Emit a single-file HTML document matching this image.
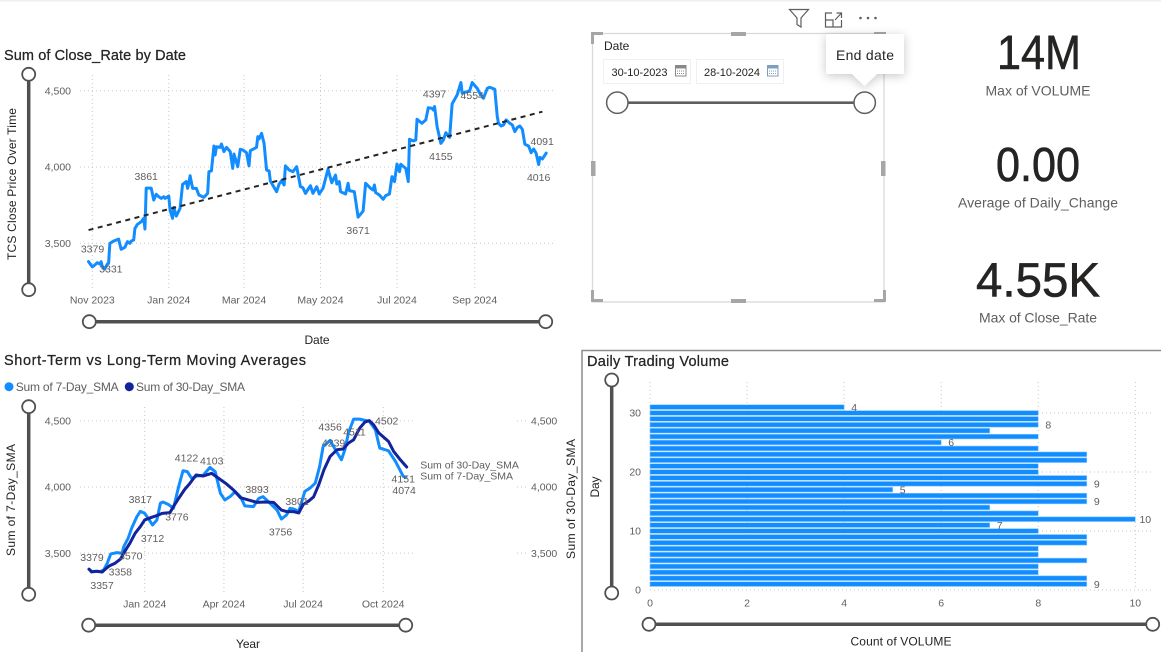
<!DOCTYPE html>
<html lang="en">
<head>
<meta charset="utf-8">
<title>TCS Stock Dashboard</title>
<style>
html,body{margin:0;padding:0;background:#fff;width:1161px;height:652px;overflow:hidden}
svg{display:block}
text{font-family:"Liberation Sans",sans-serif}
.title{font-size:14.5px;fill:#252423;stroke:#252423;stroke-width:.25px}
.axis-title{font-size:12px;fill:#252423;text-anchor:middle}
.tick{font-size:10.5px;fill:#605e5c}
.dl{font-size:10.5px;fill:#605e5c;text-anchor:middle}
.kpi{font-size:48px;fill:#252423;stroke:#252423;stroke-width:.6px;text-anchor:middle}
.kpi-label{font-size:14px;fill:#605e5c;text-anchor:middle}
.grid{stroke:#c8c6c4;stroke-width:1;stroke-dasharray:1 3;fill:none}
.track{stroke:#51504e;stroke-width:3.5}
.knob{fill:#fff;stroke:#51504e;stroke-width:1.8}
.hnd{fill:#a6a6a6}
</style>
</head>
<body>
<svg id="root" xmlns="http://www.w3.org/2000/svg" width="1161" height="652" viewBox="0 0 1161 652">
  <defs>
    <filter id="tipShadow" x="-30%" y="-30%" width="160%" height="170%">
      <feDropShadow dx="0" dy="2" stdDeviation="5" flood-color="#000" flood-opacity="0.22"/>
    </filter>
  </defs>
  <rect x="0" y="0" width="1161" height="1.5" fill="#efefef"/>

  <!-- Close rate chart -->
  <g id="closeChart">
    <text class="title" x="4" y="60" textLength="182">Sum of Close_Rate by Date</text>
    <text class="axis-title" transform="translate(16,184) rotate(-90)" textLength="152">TCS Close Price Over Time</text>
    <text class="axis-title" x="317" y="344" textLength="25">Date</text>
    <line class="track" x1="28.7" y1="74" x2="28.7" y2="290"/>
    <circle class="knob" cx="28.7" cy="74.3" r="6.5"/>
    <circle class="knob" cx="28.7" cy="289.7" r="6.5"/>
    <line class="track" x1="89" y1="321.7" x2="546" y2="321.7"/>
    <circle class="knob" cx="89.3" cy="321.7" r="6.5"/>
    <circle class="knob" cx="545.7" cy="321.7" r="6.5"/>
  </g>

  <!-- SMA chart -->
  <g id="smaChart">
    <text class="title" x="4" y="365" textLength="302">Short-Term vs Long-Term Moving Averages</text>
    <circle cx="9" cy="386.7" r="4.5" fill="#118DFF"/>
    <text class="tick" x="15.7" y="391" style="font-size:12px" textLength="103">Sum of 7-Day_SMA</text>
    <circle cx="129.3" cy="386.7" r="4.5" fill="#12239E"/>
    <text class="tick" x="136" y="391" style="font-size:12px" textLength="109">Sum of 30-Day_SMA</text>
    <text class="axis-title" transform="translate(15,500) rotate(-90)" textLength="112">Sum of 7-Day_SMA</text>
    <text class="axis-title" transform="translate(575,499) rotate(-90)" textLength="120">Sum of 30-Day_SMA</text>
    <text class="axis-title" x="248" y="648" textLength="24">Year</text>
    <line class="track" x1="28.7" y1="407" x2="28.7" y2="594"/>
    <circle class="knob" cx="28.7" cy="406.7" r="6.5"/>
    <circle class="knob" cx="28.7" cy="594.3" r="6.5"/>
    <line class="track" x1="89" y1="625.2" x2="406" y2="625.2"/>
    <circle class="knob" cx="88.7" cy="625.2" r="6.5"/>
    <circle class="knob" cx="405.7" cy="625.2" r="6.5"/>
  </g>

  <!-- Date slicer -->
  <g id="slicer">
    <rect x="592.5" y="33.5" width="291.5" height="268.5" fill="#fff" stroke="#d9d9d9" stroke-width="1.3"/>
    <path class="hnd" d="M591 32h12v3h-9v9h-3zM886 290v12h-12v-3h9v-9zM591 290h3v9h9v3h-12zM874 32h12v3h-12z"/>
    <rect class="hnd" x="731" y="32" width="15" height="4"/>
    <rect class="hnd" x="731" y="299" width="15" height="4"/>
    <rect class="hnd" x="591" y="161" width="4.5" height="15"/>
    <rect class="hnd" x="881" y="161" width="4.5" height="15"/>
    <text x="604" y="50" style="font-size:12px;fill:#252423">Date</text>
    <rect x="603.5" y="59.5" width="87" height="24" fill="#fff" stroke="#f0f0f0"/>
    <text x="611.5" y="76" style="font-size:11px;fill:#252423" textLength="56">30-10-2023</text>
    <g>
      <rect x="675.5" y="65.5" width="10.5" height="10.5" fill="#fff" stroke="#8a8886"/>
      <rect x="675.5" y="65.5" width="10.5" height="3" fill="#8a8886"/>
      <path d="M677 71h8M677 73.5h8" stroke="#8a8886" stroke-dasharray="1 1"/>
    </g>
    <rect x="696.5" y="59.5" width="87" height="24" fill="#fff" stroke="#f0f0f0"/>
    <text x="704" y="76" style="font-size:11px;fill:#252423" textLength="56">28-10-2024</text>
    <g>
      <rect x="767.5" y="65.5" width="10.5" height="10.5" fill="#fff" stroke="#7f9fc0"/>
      <rect x="767.5" y="65.5" width="10.5" height="3" fill="#7f9fc0"/>
      <path d="M769 71h8M769 73.5h8" stroke="#7f9fc0" stroke-dasharray="1 1"/>
    </g>
    <line x1="617" y1="102.7" x2="865" y2="102.7" stroke="#605e5c" stroke-width="2.6"/>
    <circle cx="617.3" cy="102.7" r="10.7" fill="#fff" stroke="#605e5c" stroke-width="1.5"/>
    <circle cx="864.7" cy="102.7" r="10.7" fill="#fff" stroke="#605e5c" stroke-width="1.5"/>
    <g>
      <path d="M828 34h74a2 2 0 0 1 2 2v36a2 2 0 0 1-2 2h-25l-12.500 12l-12.500-12h-24a2 2 0 0 1-2-2v-36a2 2 0 0 1 2-2z" fill="#fff" filter="url(#tipShadow)"/>
      <text x="865" y="60" style="font-size:14px;fill:#252423;text-anchor:middle" textLength="58">End date</text>
    </g>
    <g fill="none" stroke="#605e5c" stroke-width="1.2">
      <path d="M789.500 9.500h19l-7.500 8.500v9l-4-2.500v-6.500z"/>
      <path d="M832 13h-6.500v14h16v-7M825.500 20h7.500v7M835 20l6.500-7M836.500 13h5v5"/>
    </g>
    <g fill="#605e5c">
      <circle cx="860.500" cy="18" r="1.300"/><circle cx="868" cy="18" r="1.300"/><circle cx="875.500" cy="18" r="1.300"/>
    </g>
  </g>

  <!-- KPI cards -->
  <g>
    <text class="kpi" x="1039" y="69" textLength="84" lengthAdjust="spacingAndGlyphs">14M</text>
    <text class="kpi-label" x="1038" y="95.500" textLength="105">Max of VOLUME</text>
  </g>
  <g>
    <text class="kpi" x="1038" y="181" textLength="84" lengthAdjust="spacingAndGlyphs">0.00</text>
    <text class="kpi-label" x="1038" y="207.500" textLength="160">Average of Daily_Change</text>
  </g>
  <g>
    <text class="kpi" x="1038" y="296.500" textLength="124" lengthAdjust="spacingAndGlyphs">4.55K</text>
    <text class="kpi-label" x="1038" y="322.500" textLength="118">Max of Close_Rate</text>
  </g>

  <!-- Volume chart -->
  <g id="volumeChart">
    <path d="M582 652V350.500H1161" fill="none" stroke="#8c8c8c" stroke-width="1.500"/>
    <text class="title" x="587" y="366" textLength="142">Daily Trading Volume</text>
    <text class="axis-title" transform="translate(599,487) rotate(-90)" textLength="21">Day</text>
    <text class="axis-title" x="901" y="645.500" textLength="101">Count of VOLUME</text>
    <line class="track" x1="611.700" y1="380" x2="611.700" y2="593"/>
    <circle class="knob" cx="611.700" cy="380" r="6.500"/>
    <circle class="knob" cx="611.700" cy="593" r="6.500"/>
    <line class="track" x1="649" y1="624.300" x2="1153" y2="624.300"/>
    <circle class="knob" cx="649" cy="624.300" r="6.500"/>
    <circle class="knob" cx="1152.700" cy="624.300" r="6.500"/>
  </g>
</svg>

<script>
// ---------- Close rate chart data ----------
const closeDays = [-3,0,1,4,6,7,8,10,12,13,14,17,21,23,26,28,30,31,33,34,36,39,41,42,43,47,49,51,53,55,57,58,61,62,64,65,67,70,72,75,76,77,78,80,83,85,89,92,93,95,97,98,99,102,103,105,107,110,112,113,116,118,120,123,125,126,131,132,133,135,137,139,141,142,147,149,151,153,154,157,160,163,166,168,170,174,176,179,181,184,188,191,194,195,197,198,202,204,205,209,212,216,218,222,224,225,226,229,232,234,237,239,241,243,245,246,250,252,253,256,258,259,263,266,268,271,272,273,275,278,280,282,285,287,291,294,295,299,301,303,307,309,312,315,317,321,323,324,326,328,330,333,335,337,339,341,343,345,348,350,352,354,356,357,359,362];
const closeValues = [3379,3345,3350,3372,3363,3379,3346,3331,3363,3368,3499,3514,3527,3460,3473,3510,3499,3514,3521,3597,3624,3641,3663,3593,3861,3861,3783,3821,3805,3794,3805,3794,3810,3718,3663,3735,3678,3729,3886,3904,3860,3893,3943,3860,3860,3816,3801,3827,3969,3974,4138,4079,4133,4129,4151,4101,4129,4101,3991,4085,4002,4116,4112,4094,4007,4107,4129,4199,4184,4221,4155,3980,3974,3908,3838,3888,3910,3882,4007,3980,3969,4002,3871,3864,3827,3877,3827,3871,3823,3860,3985,3897,3947,3888,3904,3838,3823,3893,3845,3838,3671,3711,3893,3860,3849,3882,3832,3816,3788,3812,3823,3937,3904,4020,3969,4018,3991,3904,4182,4171,4177,4313,4287,4309,4389,4385,4374,4397,4265,4155,4177,4225,4195,4414,4473,4554,4484,4494,4501,4554,4516,4484,4451,4516,4523,4510,4330,4287,4269,4276,4309,4287,4276,4232,4260,4269,4247,4149,4138,4094,4118,4090,4016,4063,4053,4091];
const closeTrendDays = [-3,359];
const closeTrendValues = [3586,4363];
const closeXTickDays = [0,61,121,182,243,305];
const closeXTickLabels = ['Nov 2023','Jan 2024','Mar 2024','May 2024','Jul 2024','Sep 2024'];
const priceTicks = [3500,4000,4500];
const priceTickLabels = ['3,500','4,000','4,500'];
const closeLabelDays = [-3,10,43,212,273,278,303,362,356];
const closeLabelValues = [3379,3331,3861,3671,4397,4155,4554,4091,4016];
const closeLabelNudgeX = [4,6,0,0,0,0,0,-4,0];
const closeLabelNudgeY = [-13,0,-12,13,-12.5,13,12.5,-12,12.5];

// ---------- Moving averages chart data ----------
const sma30Days = [-64,-61,-55,-49,-44,-40,-34,-28,-23,-17,-11,-5,0,8,14,20,29,33,39,46,52,59,67,77,85,94,102,110,119,129,138,148,157,163,171,177,182,188,194,200,206,213,221,228,234,240,247,253,258,263,269,280,286,293,301];
const sma30Values = [3379,3358,3363,3357,3386,3406,3424,3454,3512,3575,3650,3701,3751,3771,3784,3801,3806,3852,3914,3982,4028,4091,4083,4103,4065,4023,3977,3919,3902,3884,3887,3884,3826,3814,3814,3804,3867,3892,3925,4018,4131,4231,4282,4287,4332,4357,4445,4491,4502,4470,4408,4345,4269,4211,4151];
const sma7Days = [-64,-61,-51,-47,-43,-39,-32,-26,-24,-19,-15,-9,-5,0,4,9,14,18,21,27,33,39,44,49,54,60,67,75,81,87,92,98,104,110,115,125,131,136,144,152,157,163,167,171,177,184,190,196,201,205,213,219,226,230,234,240,247,258,265,270,280,288,297,300];
const sma7Values = [3379,3363,3361,3374,3424,3494,3504,3499,3550,3613,3688,3776,3816,3801,3763,3713,3751,3877,3887,3869,3839,4003,4123,4116,4065,4083,4088,4148,4116,3952,3902,3927,3965,3927,3857,3852,3914,3927,3877,3826,3758,3789,3839,3834,3816,3967,3992,4030,4156,4307,4352,4282,4206,4282,4408,4513,4513,4496,4433,4294,4274,4194,4081,4074];
const smaXTickDays = [0,91,182,274];
const smaXTickLabels = ['Jan 2024','Apr 2024','Jul 2024','Oct 2024'];
const smaLabelDays = [-64,-28,-49,-16,-5,9,37,48,77,129,156,175,213,217,241,278,297,298];
const smaLabelValues = [3379,3358,3357,3570,3817,3712,3776,4122,4103,3893,3756,3801,4356,4239,4511,4502,4151,4074];
const smaLabelNudgeX = [3,0,0,0,0,0,0,0,0,0,0,0,0,0,0,0,0,0];
const smaLabelNudgeY = [-12,0,13,12,-12,13,0,-13,-12.5,-12,12.7,-12,-13,-12.5,12.6,0,12,13];
const smaEndLabels = ['Sum of 30-Day_SMA','Sum of 7-Day_SMA'];

// ---------- Volume chart data ----------
const volumeDays = [31,30,29,28,27,26,25,24,23,22,21,20,19,18,17,16,15,14,13,12,11,10,9,8,7,6,5,4,3,2,1];
const volumeCounts = [4,8,8,8,7,8,6,8,9,9,8,8,9,9,5,9,9,7,8,10,7,8,9,9,8,8,9,8,8,9,9];
const volumeLabelledDays = [31,28,25,18,17,15,12,11,1];
const volumeXTicks = [0,2,4,6,8,10];
const volumeYTicks = [0,10,20,30];

// ---------- Drawing helpers ----------
const SVG_NS = 'http://www.w3.org/2000/svg';
function mk(tag, attrs, parent) {
  const el = document.createElementNS(SVG_NS, tag);
  for (const k in attrs) el.setAttribute(k, attrs[k]);
  parent.appendChild(el);
  return el;
}
function pathFrom(xs, ys, sx, sy) {
  return xs.map((d, i) => (i ? 'L' : 'M') + sx(d).toFixed(2) + ' ' + sy(ys[i]).toFixed(2)).join('');
}

// ---------- Close rate chart ----------
(function () {
  const g = document.getElementById('closeChart');
  const sx = d => 92.3 + 1.2538 * d;
  const sy = v => 167 - (v - 4000) * 0.1524;
  priceTicks.forEach((v, i) => {
    const gl = mk('line', {class: 'grid', x1: 80, x2: 555, y1: sy(v), y2: sy(v)}, g);
    
    
    const t = mk('text', {class: 'tick', x: 71, y: sy(v) + 3.7, 'text-anchor': 'end'}, g);
    t.textContent = priceTickLabels[i];
    
    
  });
  closeXTickDays.forEach((d, i) => {
    const gl = mk('line', {class: 'grid', x1: sx(d), x2: sx(d), y1: 75, y2: 290}, g);
    
    
    const t = mk('text', {class: 'tick', x: sx(d), y: 303.7, 'text-anchor': 'middle'}, g);
    t.textContent = closeXTickLabels[i];
    
    
  });
  const line = mk('path', {d: pathFrom(closeDays, closeValues, sx, sy), fill: 'none', stroke: '#118DFF', 'stroke-width': 3, 'stroke-linejoin': 'round', 'stroke-linecap': 'round'}, g);
  
  
  const trend = mk('path', {d: pathFrom(closeTrendDays, closeTrendValues, sx, sy), fill: 'none', stroke: '#252423', 'stroke-width': 2, 'stroke-dasharray': '5 4.5'}, g);
  
  
  closeLabelDays.forEach((d, i) => {
    const t = mk('text', {class: 'dl', x: sx(d) + closeLabelNudgeX[i], y: sy(closeLabelValues[i]) + closeLabelNudgeY[i] + 3.7}, g);
    t.textContent = String(closeLabelValues[i]);
    
    
  });
})();

// ---------- Moving averages chart ----------
(function () {
  const g = document.getElementById('smaChart');
  const sx = d => 144.7 + 0.8705 * d;
  const sy = v => 487 - (v - 4000) * 0.1323;
  priceTicks.forEach((v, i) => {
    const gl = mk('line', {class: 'grid', x1: 80, x2: 413, y1: sy(v), y2: sy(v)}, g);
    
    
    const gr = mk('line', {class: 'grid', x1: 517, x2: 528, y1: sy(v), y2: sy(v)}, g);
    
    
    const t = mk('text', {class: 'tick', x: 71, y: sy(v) + 3.7, 'text-anchor': 'end'}, g);
    t.textContent = priceTickLabels[i];
    
    
    const r = mk('text', {class: 'tick', x: 531, y: sy(v) + 3.7}, g);
    r.textContent = priceTickLabels[i];
    
    
  });
  smaXTickDays.forEach((d, i) => {
    const gl = mk('line', {class: 'grid', x1: sx(d), x2: sx(d), y1: 407, y2: 594}, g);
    
    
    const t = mk('text', {class: 'tick', x: sx(d), y: 607.7, 'text-anchor': 'middle'}, g);
    t.textContent = smaXTickLabels[i];
    
    
  });
  const l7 = mk('path', {d: pathFrom(sma7Days, sma7Values, sx, sy), fill: 'none', stroke: '#118DFF', 'stroke-width': 3, 'stroke-linejoin': 'round', 'stroke-linecap': 'round'}, g);
  
  
  const l30 = mk('path', {d: pathFrom(sma30Days, sma30Values, sx, sy), fill: 'none', stroke: '#12239E', 'stroke-width': 3, 'stroke-linejoin': 'round', 'stroke-linecap': 'round'}, g);
  
  
  smaLabelDays.forEach((d, i) => {
    const t = mk('text', {class: 'dl', x: sx(d) + smaLabelNudgeX[i], y: sy(smaLabelValues[i]) + smaLabelNudgeY[i] + 3.7}, g);
    t.textContent = String(smaLabelValues[i]);
    
    
  });
  const lastX = sx(sma30Days[sma30Days.length - 1]);
  const endA = mk('text', {class: 'tick', x: lastX + 13.5, y: sy(sma30Values[sma30Values.length - 1]) + 1.7}, g);
  endA.textContent = smaEndLabels[0];
  
  
  const endB = mk('text', {class: 'tick', x: lastX + 13.5, y: sy(sma7Values[sma7Values.length - 1]) + 2.5}, g);
  endB.textContent = smaEndLabels[1];
  
  
})();

// ---------- Volume chart ----------
(function () {
  const g = document.getElementById('volumeChart');
  const sx = v => 650 + 48.53 * v;
  const sy = d => 590 - 5.9 * d;
  volumeYTicks.forEach(v => {
    const gl = mk('line', {class: 'grid', x1: 650, x2: 1153, y1: sy(v), y2: sy(v)}, g);
    
    
    const t = mk('text', {class: 'tick', x: 641, y: sy(v) + 3.7, 'text-anchor': 'end'}, g);
    t.textContent = String(v);
    
    
  });
  volumeXTicks.forEach(v => {
    const gl = mk('line', {class: 'grid', x1: sx(v), x2: sx(v), y1: 382, y2: 590}, g);
    
    
    const t = mk('text', {class: 'tick', x: sx(v), y: 606.7, 'text-anchor': 'middle'}, g);
    t.textContent = String(v);
    
    
  });
  volumeDays.forEach((d, i) => {
    const bar = mk('rect', {x: sx(0), y: sy(d) - 2.35, width: sx(volumeCounts[i]) - sx(0), height: 4.7, fill: '#118DFF', stroke: '#8cc8ff', 'stroke-width': 0.6}, g);
    
    
  });
  volumeLabelledDays.forEach(d => {
    const count = volumeCounts[volumeDays.indexOf(d)];
    const t = mk('text', {class: 'dl', x: sx(count) + 10, y: sy(d) + 3.7}, g);
    t.textContent = String(count);
    
    
  });
})();
</script>
</body>
</html>
